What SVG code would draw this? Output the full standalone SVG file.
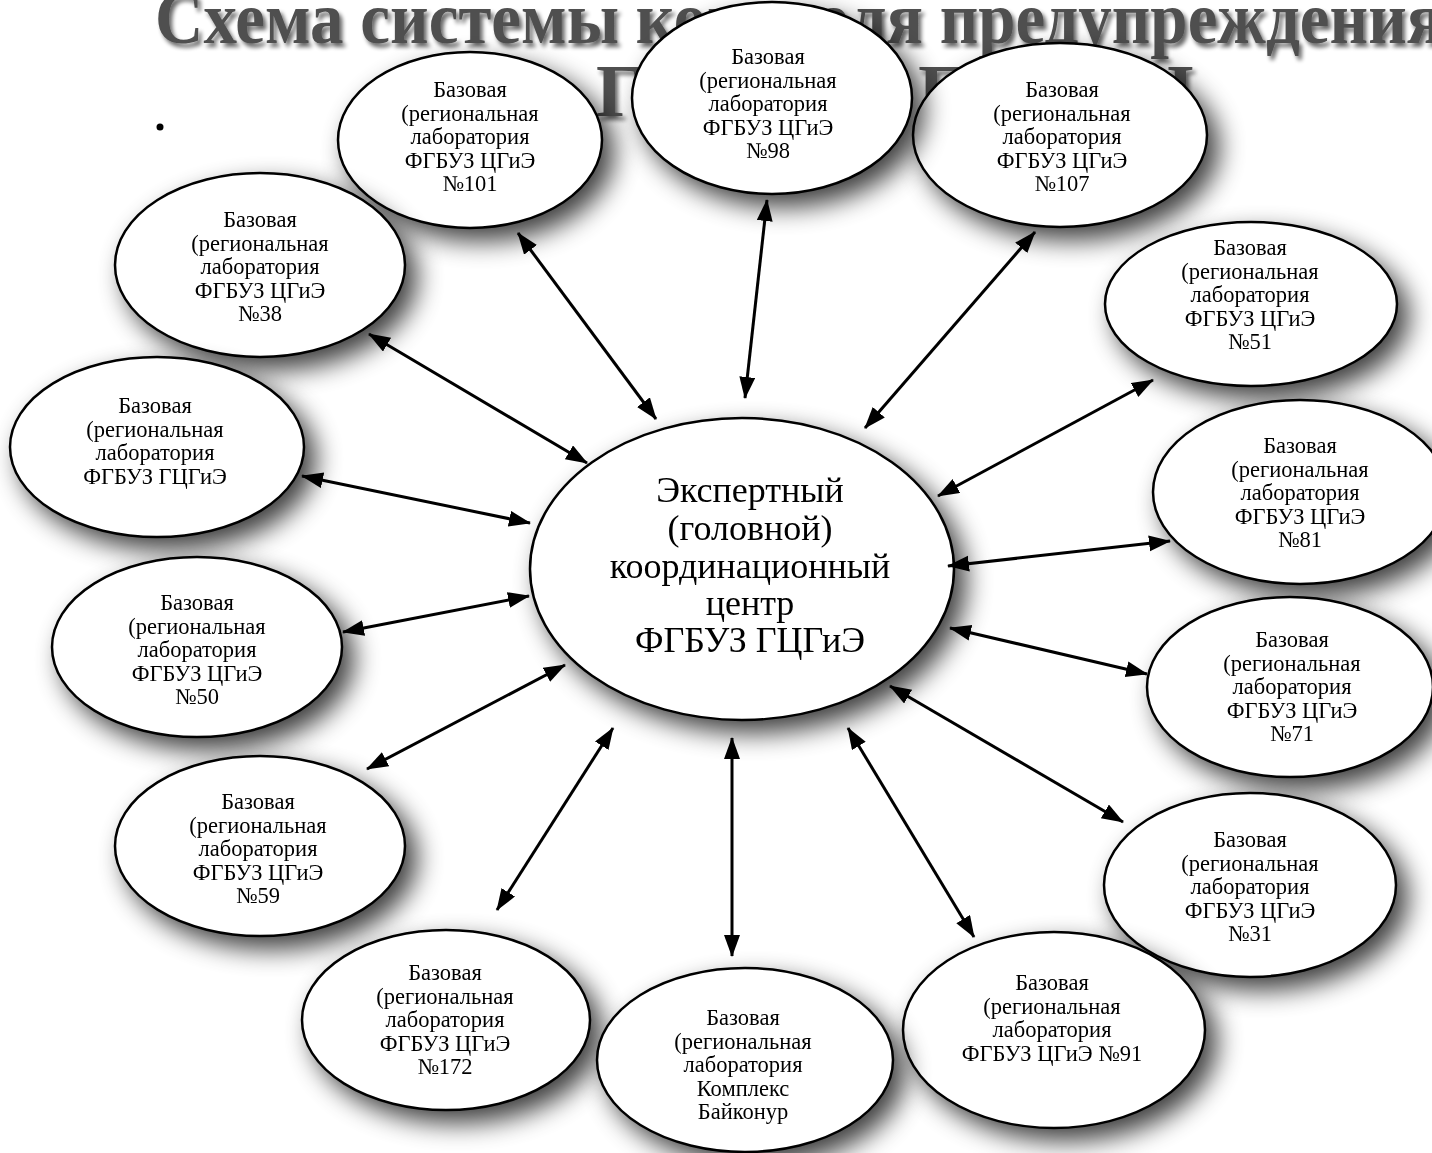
<svg xmlns="http://www.w3.org/2000/svg" width="1432" height="1153" viewBox="0 0 1432 1153">
<style>
.title{font-family:"Liberation Serif","Times New Roman",serif;font-weight:bold;font-size:74px;fill:#505050}
.node ellipse{fill:#fff;stroke:#000;stroke-width:2.5}
.node text{font-family:"Liberation Serif","Times New Roman",serif;font-size:22.5px;fill:#000;text-anchor:middle}
#center text{font-size:36px}
.conn line{stroke:#000;stroke-width:3;marker-start:url(#ah);marker-end:url(#ah)}
</style>
<defs>
<marker id="ah" markerUnits="userSpaceOnUse" markerWidth="24" markerHeight="18" refX="21" refY="8" orient="auto-start-reverse" viewBox="0 0 24 18">
<path d="M0,0 L22,8 L0,16 z" fill="#000"/>
</marker>
<filter id="sh" x="-30%" y="-30%" width="170%" height="170%">
<feGaussianBlur in="SourceAlpha" stdDeviation="13"/>
<feOffset dx="11" dy="12"/>
<feComponentTransfer><feFuncA type="linear" slope="0.75"/></feComponentTransfer>
<feMerge><feMergeNode/><feMergeNode in="SourceGraphic"/></feMerge>
</filter>
<filter id="tsh" x="-5%" y="-30%" width="110%" height="160%">
<feGaussianBlur in="SourceAlpha" stdDeviation="2"/>
<feOffset dx="3" dy="4"/>
<feComponentTransfer><feFuncA type="linear" slope="0.6"/></feComponentTransfer>
<feMerge><feMergeNode/><feMergeNode in="SourceGraphic"/></feMerge>
</filter>
</defs>
<rect width="1432" height="1153" fill="#fff"/>
<g id="title" filter="url(#tsh)">
<text class="title" x="155" y="43" textLength="1288" lengthAdjust="spacingAndGlyphs">Схема системы контроля предупреждения</text>
<text class="title" x="596" y="116">ГП</text>
<text class="title" x="918" y="116">П</text>
<text class="title" x="1166" y="116">І</text>
</g>
<circle cx="160" cy="127" r="3.5" fill="#000"/>

<g id="nodes">
<g class="node" id="n101" filter="url(#sh)"><ellipse cx="470" cy="140" rx="132" ry="88"/>
<text x="470" y="97">Базовая</text><text x="470" y="120.5">(региональная</text><text x="470" y="144">лаборатория</text><text x="470" y="167.5">ФГБУЗ ЦГиЭ</text><text x="470" y="191">№101</text></g>
<g class="node" id="n107" filter="url(#sh)"><ellipse cx="1060" cy="135" rx="147" ry="92"/>
<text x="1062" y="97">Базовая</text><text x="1062" y="120.5">(региональная</text><text x="1062" y="144">лаборатория</text><text x="1062" y="167.5">ФГБУЗ ЦГиЭ</text><text x="1062" y="191">№107</text></g>
<g class="node" id="n98" filter="url(#sh)"><ellipse cx="772" cy="98" rx="140" ry="96"/>
<text x="768" y="64">Базовая</text><text x="768" y="87.5">(региональная</text><text x="768" y="111">лаборатория</text><text x="768" y="134.5">ФГБУЗ ЦГиЭ</text><text x="768" y="158">№98</text></g>
<g class="node" id="n38" filter="url(#sh)"><ellipse cx="260" cy="265" rx="145" ry="92"/>
<text x="260" y="227">Базовая</text><text x="260" y="250.5">(региональная</text><text x="260" y="274">лаборатория</text><text x="260" y="297.5">ФГБУЗ ЦГиЭ</text><text x="260" y="321">№38</text></g>
<g class="node" id="n51" filter="url(#sh)"><ellipse cx="1251" cy="304" rx="146" ry="82"/>
<text x="1250" y="255">Базовая</text><text x="1250" y="278.5">(региональная</text><text x="1250" y="302">лаборатория</text><text x="1250" y="325.5">ФГБУЗ ЦГиЭ</text><text x="1250" y="349">№51</text></g>
<g class="node" id="nG" filter="url(#sh)"><ellipse cx="157" cy="447" rx="147" ry="90"/>
<text x="155" y="413">Базовая</text><text x="155" y="436.5">(региональная</text><text x="155" y="460">лаборатория</text><text x="155" y="483.5">ФГБУЗ ГЦГиЭ</text></g>
<g class="node" id="n81" filter="url(#sh)"><ellipse cx="1300" cy="492" rx="147" ry="92"/>
<text x="1300" y="453">Базовая</text><text x="1300" y="476.5">(региональная</text><text x="1300" y="500">лаборатория</text><text x="1300" y="523.5">ФГБУЗ ЦГиЭ</text><text x="1300" y="547">№81</text></g>
<g class="node" id="n50" filter="url(#sh)"><ellipse cx="197" cy="647" rx="145" ry="90"/>
<text x="197" y="610">Базовая</text><text x="197" y="633.5">(региональная</text><text x="197" y="657">лаборатория</text><text x="197" y="680.5">ФГБУЗ ЦГиЭ</text><text x="197" y="704">№50</text></g>
<g class="node" id="n71" filter="url(#sh)"><ellipse cx="1290" cy="687" rx="143" ry="90"/>
<text x="1292" y="647">Базовая</text><text x="1292" y="670.5">(региональная</text><text x="1292" y="694">лаборатория</text><text x="1292" y="717.5">ФГБУЗ ЦГиЭ</text><text x="1292" y="741">№71</text></g>
<g class="node" id="n59" filter="url(#sh)"><ellipse cx="260" cy="846" rx="145" ry="90"/>
<text x="258" y="809">Базовая</text><text x="258" y="832.5">(региональная</text><text x="258" y="856">лаборатория</text><text x="258" y="879.5">ФГБУЗ ЦГиЭ</text><text x="258" y="903">№59</text></g>
<g class="node" id="n31" filter="url(#sh)"><ellipse cx="1250" cy="885" rx="146" ry="92"/>
<text x="1250" y="847">Базовая</text><text x="1250" y="870.5">(региональная</text><text x="1250" y="894">лаборатория</text><text x="1250" y="917.5">ФГБУЗ ЦГиЭ</text><text x="1250" y="941">№31</text></g>
<g class="node" id="n172" filter="url(#sh)"><ellipse cx="446" cy="1020" rx="144" ry="90"/>
<text x="445" y="980">Базовая</text><text x="445" y="1003.5">(региональная</text><text x="445" y="1027">лаборатория</text><text x="445" y="1050.5">ФГБУЗ ЦГиЭ</text><text x="445" y="1074">№172</text></g>
<g class="node" id="n91" filter="url(#sh)"><ellipse cx="1054" cy="1030" rx="151" ry="98"/>
<text x="1052" y="990">Базовая</text><text x="1052" y="1013.5">(региональная</text><text x="1052" y="1037">лаборатория</text><text x="1052" y="1060.5">ФГБУЗ ЦГиЭ №91</text></g>
<g class="node" id="nB" filter="url(#sh)"><ellipse cx="745" cy="1060" rx="148" ry="92"/>
<text x="743" y="1025">Базовая</text><text x="743" y="1048.5">(региональная</text><text x="743" y="1072">лаборатория</text><text x="743" y="1095.5">Комплекс</text><text x="743" y="1119">Байконур</text></g>
<g class="node" id="center" filter="url(#sh)"><ellipse cx="742" cy="569" rx="212" ry="151"/>
<text x="750" y="502">Экспертный</text><text x="750" y="540">(головной)</text><text x="750" y="578">координационный</text><text x="750" y="615">центр</text><text x="750" y="652">ФГБУЗ ГЦГиЭ</text></g>
</g>

<g id="connectors" class="conn">
<line x1="518" y1="233" x2="656" y2="419"/>
<line x1="767" y1="200" x2="745" y2="398"/>
<line x1="1035" y1="232" x2="865" y2="428"/>
<line x1="369" y1="334" x2="587" y2="463"/>
<line x1="302" y1="476" x2="530" y2="523"/>
<line x1="343" y1="632" x2="529" y2="596"/>
<line x1="367" y1="769" x2="565" y2="665"/>
<line x1="497" y1="910" x2="613" y2="728"/>
<line x1="732" y1="738" x2="732" y2="956"/>
<line x1="848" y1="728" x2="974" y2="937"/>
<line x1="890" y1="686" x2="1123" y2="822"/>
<line x1="950" y1="628" x2="1147" y2="674"/>
<line x1="948" y1="566" x2="1170" y2="541"/>
<line x1="938" y1="496" x2="1153" y2="380"/>
</g>
</svg>
